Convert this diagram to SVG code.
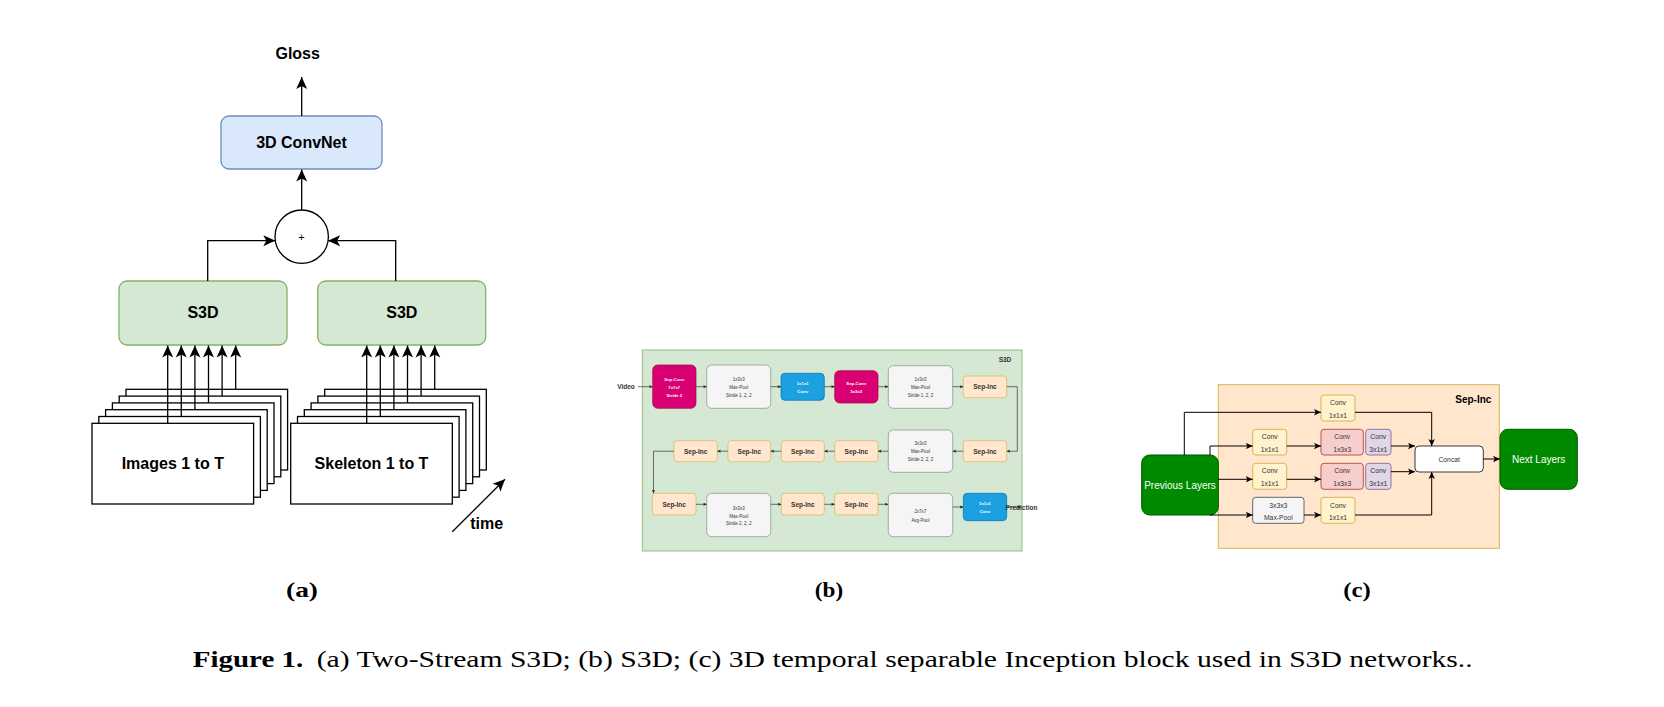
<svg xmlns="http://www.w3.org/2000/svg" width="1664" height="707" viewBox="0 0 1664 707">
<defs>
<style>
.sans{font-family:"Liberation Sans",Arial,Helvetica,sans-serif;text-anchor:middle;dominant-baseline:central}
.ta{font-size:16px;font-weight:bold;fill:#000}
.frame{fill:#fff;stroke:#000;stroke-width:1.3}
.la{fill:none;stroke:#000;stroke-width:1.3}
.lb{fill:none;stroke:#333;stroke-width:0.7}
.lc{fill:none;stroke:#000;stroke-width:1}
.green{fill:#d5e8d4;stroke:#82b366}
.blue{fill:#dae8fc;stroke:#6c8ebf}
.pink{fill:#d80073;stroke:#a50040;stroke-width:0.7}
.grey{fill:#f5f5f5;stroke:#8a8a8a;stroke-width:0.7}
.cblue{fill:#1ba1e2;stroke:#006eaf;stroke-width:0.7}
.inc{fill:#ffe6cc;stroke:#d6b656;stroke-width:0.7}
.tb{font-size:4.5px;fill:#333}
.tbw{font-size:4.3px;fill:#fff;font-weight:bold}
.tbb{font-size:6.5px;font-weight:bold;fill:#333}
.yel{fill:#fff2cc;stroke:#d6b656;stroke-width:1}
.red{fill:#f8cecc;stroke:#b85450;stroke-width:1}
.pur{fill:#e1d5e7;stroke:#9673a6;stroke-width:1}
.gry{fill:#f5f5f5;stroke:#666;stroke-width:1}
.dg{fill:#008a00;stroke:#005700;stroke-width:1}
.tc{font-size:6.8px;fill:#333}
.tcw{font-size:10px;fill:#fff}
.serif{font-family:"Liberation Serif","Times New Roman",serif;fill:#000}
</style>
<marker id="mA" markerUnits="userSpaceOnUse" viewBox="0 0 12 12" refX="12" refY="6" markerWidth="12" markerHeight="12" orient="auto"><path d="M0,0.5 L12,6 L0,11.5 L3,6 Z" fill="#000"/></marker>
<marker id="mB" markerUnits="userSpaceOnUse" viewBox="0 0 12 12" refX="12" refY="6" markerWidth="3.6" markerHeight="3.6" orient="auto"><path d="M0,0.5 L12,6 L0,11.5 L3,6 Z" fill="#222"/></marker>
<marker id="mC" markerUnits="userSpaceOnUse" viewBox="0 0 12 12" refX="12" refY="6" markerWidth="7" markerHeight="7" orient="auto"><path d="M0,0.5 L12,6 L0,11.5 L3,6 Z" fill="#000"/></marker>
</defs>
<rect width="1664" height="707" fill="#fff"/>

<!-- ===== Panel (a) ===== -->
<g id="a-gloss"><text class="sans ta" x="297.7" y="53.5" font-size="16">Gloss</text></g>
<g id="a-convnet"><rect class="blue" x="221" y="116" width="161" height="53" rx="8" stroke-width="1.3"/><text class="sans ta" x="301.5" y="142.5">3D ConvNet</text></g>
<g id="a-plus"><circle cx="301.7" cy="236.7" r="26.7" fill="#fff" stroke="#000" stroke-width="1.3"/><text class="sans" x="301.5" y="236.5" font-size="11" fill="#000">+</text></g>
<g id="a-s3d-1"><rect class="green" x="119" y="281" width="168" height="64" rx="8" stroke-width="1.3"/><text class="sans ta" x="203" y="312.7">S3D</text></g>
<g id="a-s3d-2"><rect class="green" x="317.7" y="281" width="168" height="64" rx="8" stroke-width="1.3"/><text class="sans ta" x="401.8" y="312.7">S3D</text></g>
<g id="a-images">
<rect class="frame" x="126" y="389.3" width="161.6" height="80.7"/>
<rect class="frame" x="119.2" y="396.1" width="161.6" height="80.7"/>
<rect class="frame" x="112.4" y="402.9" width="161.6" height="80.7"/>
<rect class="frame" x="105.6" y="409.7" width="161.6" height="80.7"/>
<rect class="frame" x="98.8" y="416.5" width="161.6" height="80.7"/>
<rect class="frame" x="92" y="423.3" width="161.6" height="80.7"/>
<text class="sans ta" x="172.8" y="463.6">Images 1 to T</text>
</g>
<g id="a-skeleton">
<rect class="frame" x="324.7" y="389.3" width="161.6" height="80.7"/>
<rect class="frame" x="317.9" y="396.1" width="161.6" height="80.7"/>
<rect class="frame" x="311.1" y="402.9" width="161.6" height="80.7"/>
<rect class="frame" x="304.3" y="409.7" width="161.6" height="80.7"/>
<rect class="frame" x="297.5" y="416.5" width="161.6" height="80.7"/>
<rect class="frame" x="290.7" y="423.3" width="161.6" height="80.7"/>
<text class="sans ta" x="371.5" y="463.6">Skeleton 1 to T</text>
</g>
<g id="a-time"><text class="sans ta" x="486.7" y="523.3" font-size="15">time</text></g>

<g id="a-connectors">
<path class="la" d="M301.7,116 V77" marker-end="url(#mA)"/>
<path class="la" d="M301.7,210 V169.5" marker-end="url(#mA)"/>
<path class="la" d="M207.7,281 V240.7 H275.3" marker-end="url(#mA)"/>
<path class="la" d="M395.7,281 V240.7 H328.1" marker-end="url(#mA)"/>
<path class="la" d="M167.7,423.3 V345.5" marker-end="url(#mA)"/>
<path class="la" d="M181.3,416.5 V345.5" marker-end="url(#mA)"/>
<path class="la" d="M194.9,409.7 V345.5" marker-end="url(#mA)"/>
<path class="la" d="M208.5,402.9 V345.5" marker-end="url(#mA)"/>
<path class="la" d="M222.1,396.1 V345.5" marker-end="url(#mA)"/>
<path class="la" d="M235.7,389.3 V345.5" marker-end="url(#mA)"/>
<path class="la" d="M366.7,423.3 V345.5" marker-end="url(#mA)"/>
<path class="la" d="M380.3,416.5 V345.5" marker-end="url(#mA)"/>
<path class="la" d="M393.9,409.7 V345.5" marker-end="url(#mA)"/>
<path class="la" d="M407.5,402.9 V345.5" marker-end="url(#mA)"/>
<path class="la" d="M421.1,396.1 V345.5" marker-end="url(#mA)"/>
<path class="la" d="M434.7,389.3 V345.5" marker-end="url(#mA)"/>
<path class="la" d="M452.3,531.7 L505,479.3" marker-end="url(#mA)"/>
</g>

<!-- ===== Panel (b) ===== -->
<g id="b-container"><rect class="green" x="642.3" y="350" width="379.7" height="201" stroke-width="0.8"/><text class="sans tbb" x="1005" y="359.3">S3D</text></g>
<g id="b-video"><text class="sans tbb" x="626" y="386.7">Video</text></g>
<g id="b-sepconv1"><rect class="pink" x="652.7" y="365" width="43.3" height="43.3" rx="5"/><text class="sans tbw" x="674.3" y="379.3">Sep-Conv</text><text class="sans tbw" x="674.3" y="387.3">7x7x7</text><text class="sans tbw" x="674.3" y="395.3">Stride 2</text></g>
<g id="b-maxpool1"><rect class="grey" x="706.7" y="365" width="64" height="43.3" rx="5"/><text class="sans tb" x="738.7" y="379.3">1x3x3</text><text class="sans tb" x="738.7" y="387.3">Max-Pool</text><text class="sans tb" x="738.7" y="395.3">Stride 1, 2, 2</text></g>
<g id="b-conv1"><rect class="cblue" x="781" y="373.3" width="43.3" height="27" rx="4"/><text class="sans tbw" x="802.7" y="383" font-weight="normal">1x1x1</text><text class="sans tbw" x="802.7" y="391" font-weight="normal">Conv</text></g>
<g id="b-sepconv2"><rect class="pink" x="834.7" y="370.7" width="43.3" height="32.3" rx="5"/><text class="sans tbw" x="856.3" y="383">Sep-Conv</text><text class="sans tbw" x="856.3" y="391">3x3x3</text></g>
<g id="b-maxpool2"><rect class="grey" x="888.3" y="365.7" width="64.4" height="42.6" rx="5"/><text class="sans tb" x="920.5" y="379.3">1x3x3</text><text class="sans tb" x="920.5" y="387.3">Max-Pool</text><text class="sans tb" x="920.5" y="395.3">Stride 1, 2, 2</text></g>
<g id="b-sepinc1"><rect class="inc" x="963.3" y="376" width="43.4" height="21.7" rx="3"/><text class="sans tbb" x="985" y="386.8">Sep-Inc</text></g>
<g id="b-sepinc2"><rect class="inc" x="963.3" y="440.7" width="43.4" height="21" rx="3"/><text class="sans tbb" x="985" y="451.2">Sep-Inc</text></g>
<g id="b-maxpool3"><rect class="grey" x="888.3" y="430" width="64.4" height="42.3" rx="5"/><text class="sans tb" x="920.5" y="443.8">3x3x3</text><text class="sans tb" x="920.5" y="451.5">Max-Pool</text><text class="sans tb" x="920.5" y="459.2">Stride 2, 2, 2</text></g>
<g id="b-sepinc3"><rect class="inc" x="834.7" y="440.7" width="43.3" height="21" rx="3"/><text class="sans tbb" x="856.3" y="451.2">Sep-Inc</text></g>
<g id="b-sepinc4"><rect class="inc" x="781.3" y="440.7" width="43" height="21" rx="3"/><text class="sans tbb" x="802.8" y="451.2">Sep-Inc</text></g>
<g id="b-sepinc5"><rect class="inc" x="728" y="440.7" width="42.7" height="21" rx="3"/><text class="sans tbb" x="749.3" y="451.2">Sep-Inc</text></g>
<g id="b-sepinc6"><rect class="inc" x="674" y="440.7" width="43.3" height="21" rx="3"/><text class="sans tbb" x="695.7" y="451.2">Sep-Inc</text></g>
<g id="b-sepinc7"><rect class="inc" x="652.3" y="493.3" width="43.7" height="21.7" rx="3"/><text class="sans tbb" x="674.2" y="504.2">Sep-Inc</text></g>
<g id="b-maxpool4"><rect class="grey" x="706.7" y="493.3" width="64" height="43.4" rx="5"/><text class="sans tb" x="738.7" y="508.3">3x3x3</text><text class="sans tb" x="738.7" y="516">Max-Pool</text><text class="sans tb" x="738.7" y="523.7">Stride 2, 2, 2</text></g>
<g id="b-sepinc8"><rect class="inc" x="781.3" y="493.3" width="43" height="21.7" rx="3"/><text class="sans tbb" x="802.8" y="504.2">Sep-Inc</text></g>
<g id="b-sepinc9"><rect class="inc" x="834.7" y="493.3" width="43.3" height="21.7" rx="3"/><text class="sans tbb" x="856.3" y="504.2">Sep-Inc</text></g>
<g id="b-avgpool"><rect class="grey" x="888.3" y="493.3" width="64.4" height="43.4" rx="5"/><text class="sans tb" x="920.5" y="511.7">2x7x7</text><text class="sans tb" x="920.5" y="520">Avg-Pool</text></g>
<g id="b-conv2"><rect class="cblue" x="963.3" y="493.3" width="43.4" height="27.4" rx="4"/><text class="sans tbw" x="985" y="503.3" font-weight="normal">1x1x1</text><text class="sans tbw" x="985" y="511.3" font-weight="normal">Conv</text></g>
<g id="b-prediction"><text class="sans tbb" x="1021.5" y="507" text-anchor="start">Prediction</text></g>

<g id="b-connectors">
<path class="lb" d="M638,386.7 H652.7" marker-end="url(#mB)"/>
<path class="lb" d="M696,386.7 H706.7" marker-end="url(#mB)"/>
<path class="lb" d="M770.7,386.7 H781" marker-end="url(#mB)"/>
<path class="lb" d="M824.3,386.7 H834.7" marker-end="url(#mB)"/>
<path class="lb" d="M878,386.7 H888.3" marker-end="url(#mB)"/>
<path class="lb" d="M952.7,386.7 H963.3" marker-end="url(#mB)"/>
<path class="lb" d="M1006.7,386.7 H1017.3 V451.2 H1006.7" marker-end="url(#mB)"/>
<path class="lb" d="M963.3,451.2 H952.7" marker-end="url(#mB)"/>
<path class="lb" d="M888.3,451.2 H878" marker-end="url(#mB)"/>
<path class="lb" d="M834.7,451.2 H824.3" marker-end="url(#mB)"/>
<path class="lb" d="M781.3,451.2 H770.7" marker-end="url(#mB)"/>
<path class="lb" d="M728,451.2 H717.3" marker-end="url(#mB)"/>
<path class="lb" d="M674,451.2 H653.5 V493.3" marker-end="url(#mB)"/>
<path class="lb" d="M696,504.3 H706.7" marker-end="url(#mB)"/>
<path class="lb" d="M770.7,504.3 H781.3" marker-end="url(#mB)"/>
<path class="lb" d="M824.3,504.3 H834.7" marker-end="url(#mB)"/>
<path class="lb" d="M878,504.3 H888.3" marker-end="url(#mB)"/>
<path class="lb" d="M952.7,507 H963.3" marker-end="url(#mB)"/>
<path class="lb" d="M1006.7,507 H1021" marker-end="url(#mB)"/>
</g>

<!-- ===== Panel (c) ===== -->
<g id="c-container"><rect x="1218.3" y="384.7" width="281" height="163.6" fill="#ffe6cc" stroke="#d6b656" stroke-width="1"/><text class="sans" x="1473.3" y="399.3" font-size="10" font-weight="bold" fill="#000">Sep-Inc</text></g>
<g id="c-prev"><rect class="dg" x="1141.7" y="455" width="76.6" height="60" rx="8"/><text class="sans tcw" x="1180" y="485">Previous Layers</text></g>
<g id="c-conv-a"><rect class="yel" x="1321" y="395" width="34" height="26" rx="3"/><text class="sans tc" x="1338" y="402.7">Conv</text><text class="sans tc" x="1338" y="415.3">1x1x1</text></g>
<g id="c-conv-b1"><rect class="yel" x="1252.7" y="429.3" width="34" height="25.7" rx="3"/><text class="sans tc" x="1269.7" y="436.7">Conv</text><text class="sans tc" x="1269.7" y="449.3">1x1x1</text></g>
<g id="c-conv-b2"><rect class="red" x="1321" y="429.3" width="42.3" height="25.7" rx="3"/><text class="sans tc" x="1342.2" y="436.7">Conv</text><text class="sans tc" x="1342.2" y="449.3">1x3x3</text></g>
<g id="c-conv-b3"><rect class="pur" x="1365.7" y="429.3" width="25.3" height="25.7" rx="3"/><text class="sans tc" x="1378.3" y="436.7">Conv</text><text class="sans tc" x="1378.3" y="449.3">3x1x1</text></g>
<g id="c-conv-c1"><rect class="yel" x="1252.7" y="463.3" width="34" height="26" rx="3"/><text class="sans tc" x="1269.7" y="470.7">Conv</text><text class="sans tc" x="1269.7" y="483.3">1x1x1</text></g>
<g id="c-conv-c2"><rect class="red" x="1321" y="463.3" width="42.3" height="26" rx="3"/><text class="sans tc" x="1342.2" y="470.7">Conv</text><text class="sans tc" x="1342.2" y="483.3">1x3x3</text></g>
<g id="c-conv-c3"><rect class="pur" x="1365.7" y="463.3" width="25.3" height="26" rx="3"/><text class="sans tc" x="1378.3" y="470.7">Conv</text><text class="sans tc" x="1378.3" y="483.3">3x1x1</text></g>
<g id="c-maxpool"><rect class="gry" x="1252.7" y="497.3" width="51.3" height="26" rx="3"/><text class="sans tc" x="1278.3" y="505.3">3x3x3</text><text class="sans tc" x="1278.3" y="517.3">Max-Pool</text></g>
<g id="c-conv-d"><rect class="yel" x="1321" y="497.3" width="34" height="26" rx="3"/><text class="sans tc" x="1338" y="505.3">Conv</text><text class="sans tc" x="1338" y="517.3">1x1x1</text></g>
<g id="c-concat"><rect x="1415" y="446" width="68.3" height="26" rx="4" fill="#fff" stroke="#36393d" stroke-width="1"/><text class="sans tc" x="1449.2" y="459" font-size="6.5">Concat</text></g>
<g id="c-next"><rect class="dg" x="1500" y="429.3" width="77.3" height="60" rx="8"/><text class="sans tcw" x="1538.7" y="459.3">Next Layers</text></g>

<g id="c-connectors">
<path class="lc" d="M1184.3,455 V412.3 H1321" marker-end="url(#mC)"/>
<path class="lc" d="M1355,412.3 H1431.7 V446" marker-end="url(#mC)"/>
<path class="lc" d="M1210,455 V446 H1252.7" marker-end="url(#mC)"/>
<path class="lc" d="M1286.7,446 H1321" marker-end="url(#mC)"/>
<path class="lc" d="M1391,446 H1415" marker-end="url(#mC)"/>
<path class="lc" d="M1218.3,479.3 H1252.7" marker-end="url(#mC)"/>
<path class="lc" d="M1286.7,479.3 H1321" marker-end="url(#mC)"/>
<path class="lc" d="M1391,471.7 H1415" marker-end="url(#mC)"/>
<path class="lc" d="M1210,515 H1252.7" marker-end="url(#mC)"/>
<path class="lc" d="M1304,515 H1321" marker-end="url(#mC)"/>
<path class="lc" d="M1355,515 H1431.7 V472" marker-end="url(#mC)"/>
<path class="lc" d="M1483.3,459 H1500" marker-end="url(#mC)"/>
</g>

<!-- ===== Labels and caption ===== -->
<g id="labels">
<text class="serif" x="302" y="596.7" font-size="22" font-weight="bold" text-anchor="middle" textLength="32" lengthAdjust="spacingAndGlyphs">(a)</text>
<text class="serif" x="829" y="596.7" font-size="22" font-weight="bold" text-anchor="middle" textLength="28.3" lengthAdjust="spacingAndGlyphs">(b)</text>
<text class="serif" x="1357" y="596.7" font-size="22" font-weight="bold" text-anchor="middle" textLength="27.6" lengthAdjust="spacingAndGlyphs">(c)</text>
</g>
<g id="caption">
<text class="serif" x="192.7" y="667.3" font-size="24" font-weight="bold" textLength="110.6" lengthAdjust="spacingAndGlyphs">Figure 1.</text>
<text class="serif" x="316.7" y="667.3" font-size="24" textLength="1156" lengthAdjust="spacingAndGlyphs">(a) Two-Stream S3D; (b) S3D; (c) 3D temporal separable Inception block used in S3D networks..</text>
</g>
</svg>
